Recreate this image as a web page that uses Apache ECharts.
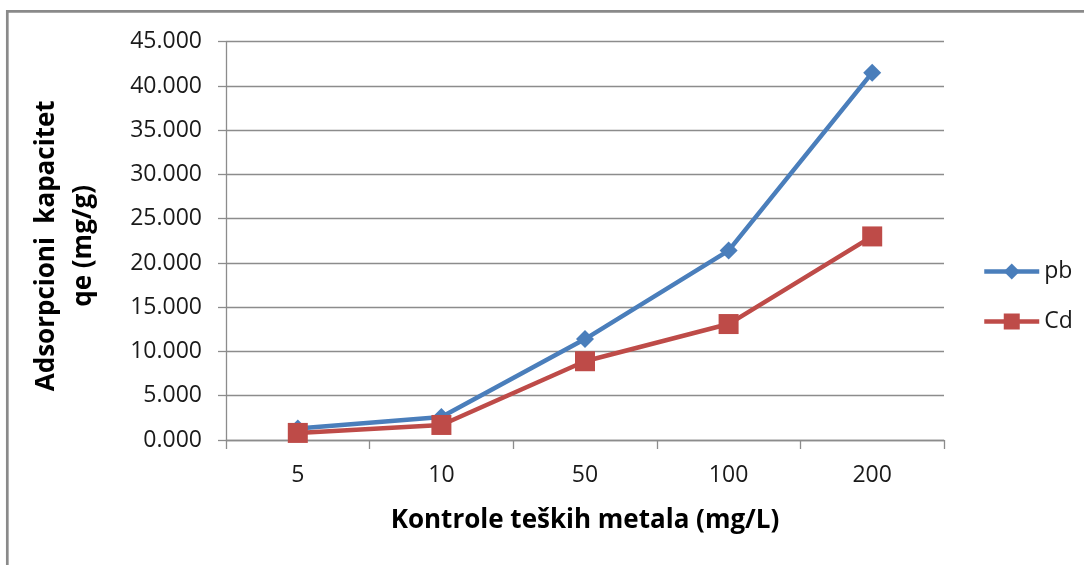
<!DOCTYPE html>
<html>
<head>
<meta charset="utf-8">
<style>
  html, body { margin: 0; padding: 0; background: #ffffff; }
  #chart { width: 1084px; height: 565px; }
</style>
<script src="https://cdn.jsdelivr.net/npm/echarts@6/dist/echarts.min.js"></script>
</head>
<body>
<div id="chart"></div>
<script>
// Heavy-metal concentrations (mg/L) on the category axis
const categories = ['5', '10', '50', '100', '200'];
// Adsorption capacity qe (mg/g) for each metal
const pbValues = [1.3, 2.6, 11.4, 21.4, 41.5];
const cdValues = [0.8, 1.7, 8.9, 13.1, 23.0];
const seriesNames = ['pb', 'Cd'];
// Value-axis range and step
const yMin = 0, yMax = 45, yStep = 5;

const FONT = '"Open Sans", "Liberation Sans", sans-serif';
const BLUE = '#4a7ebb';
const RED = '#be4b48';
const GRID = '#8c8c8c';

const chart = echarts.init(document.getElementById('chart'), null, { renderer: 'canvas' });

chart.setOption({
  backgroundColor: '#ffffff',
  animation: false,
  graphic: [{
    type: 'rect',
    shape: { x: 7.3, y: 11.3, width: 1200, height: 700 },
    style: { fill: 'none', stroke: '#8a8a8a', lineWidth: 2.7 },
    silent: true
  }],
  grid: { left: 226, right: 140, top: 41.7, bottom: 125, containLabel: false },
  legend: {
    orient: 'vertical',
    left: 977,
    top: 255,
    itemWidth: 55,
    itemHeight: 20,
    itemGap: 27,
    textStyle: { fontFamily: FONT, fontSize: 23, lineHeight: 22, color: '#1a1a1a' },
    data: [
      { name: seriesNames[0], lineStyle: { width: 4.5 } },
      { name: seriesNames[1], lineStyle: { width: 4.5 } }
    ]
  },
  xAxis: {
    type: 'category',
    data: categories,
    boundaryGap: true,
    axisLine: { lineStyle: { color: GRID, width: 1.3 } },
    axisTick: { show: true, length: 9, lineStyle: { color: GRID, width: 1.3 } },
    axisLabel: { fontFamily: FONT, fontSize: 23, color: '#1a1a1a', margin: 24 },
    name: 'Kontrole teških metala (mg/L)',
    nameLocation: 'middle',
    nameGap: 66,
    nameTextStyle: { fontFamily: FONT, fontSize: 26, fontWeight: 'bold', color: '#000000', lineHeight: 30 }
  },
  yAxis: {
    type: 'value',
    min: yMin,
    max: yMax,
    interval: yStep,
    axisLine: { show: true, lineStyle: { color: GRID, width: 1.3 } },
    axisTick: { show: true, length: 8, lineStyle: { color: GRID, width: 1.3 } },
    splitLine: { show: true, lineStyle: { color: GRID, width: 1.3 } },
    axisLabel: {
      fontFamily: FONT, fontSize: 23, color: '#1a1a1a', margin: 24,
      formatter: v => v.toFixed(3)
    },
    name: 'Adsorpcioni  kapacitet\nqe (mg/g)',
    nameLocation: 'middle',
    nameRotate: 90,
    nameGap: 124,
    nameTextStyle: { fontFamily: FONT, fontSize: 26, fontWeight: 'bold', color: '#000000', lineHeight: 37, align: 'center', padding: [0, 10, 0, 0] }
  },
  series: [
    {
      name: seriesNames[0],
      type: 'line',
      data: pbValues,
      symbol: 'diamond',
      symbolSize: 18,
      color: BLUE,
      lineStyle: { color: BLUE, width: 4.5 },
      itemStyle: { color: BLUE },
      z: 2
    },
    {
      name: seriesNames[1],
      type: 'line',
      data: cdValues,
      symbol: 'rect',
      symbolSize: 20,
      color: RED,
      lineStyle: { color: RED, width: 4.5 },
      itemStyle: { color: RED },
      z: 3
    }
  ]
});
</script>
</body>
</html>
